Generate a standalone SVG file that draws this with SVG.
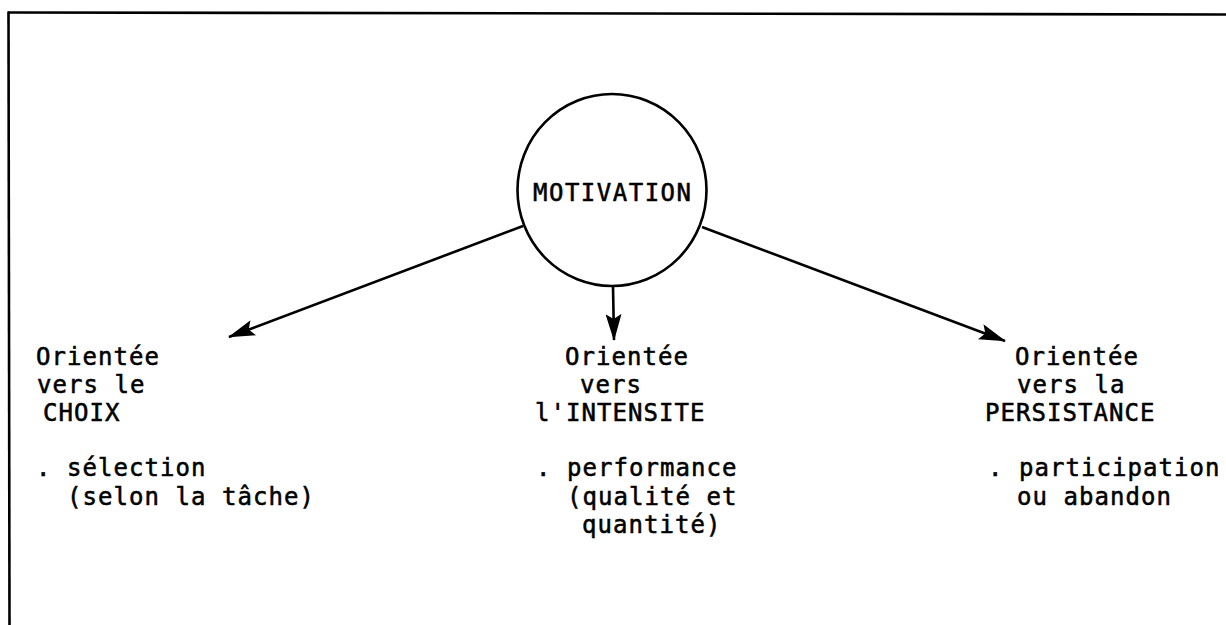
<svg xmlns="http://www.w3.org/2000/svg" width="1226" height="625" viewBox="0 0 1226 625">
<style>
.t{font-family:"DejaVu Sans Mono","Liberation Mono",monospace;font-size:24px;letter-spacing:1.05px;fill:#000;stroke:#000;stroke-width:0.55px}
.ln{stroke:#000;stroke-width:2.6;fill:none}
</style>
<defs>
<marker id="ah" markerWidth="28" markerHeight="16" refX="26" refY="8" orient="auto" markerUnits="userSpaceOnUse">
<path d="M0,0 L27,8 L0,16 L5,8 Z" fill="#000"/>
</marker>
</defs>
<rect x="0" y="0" width="1226" height="625" fill="#fff"/>
<g id="frame">
<line class="ln" x1="8" y1="12.5" x2="1226" y2="14.5"/>
<line class="ln" x1="8.5" y1="11.5" x2="9.5" y2="625"/>
</g>
<g id="connectors">
<line class="ln" x1="523" y1="226" x2="229" y2="337" marker-end="url(#ah)"/>
<line class="ln" x1="613" y1="286" x2="614" y2="340" marker-end="url(#ah)"/>
<line class="ln" x1="702" y1="227" x2="1005" y2="341" marker-end="url(#ah)"/>
</g>
<g id="motivation">
<ellipse class="ln" cx="612" cy="190" rx="94.5" ry="96"/>
<text class="t" x="533" y="201" style="letter-spacing:1.5px">MOTIVATION</text>
</g>
<g id="choix">
<text class="t" x="36" y="365">Orientée</text>
<text class="t" x="37" y="393">vers le</text>
<text class="t" x="43" y="421">CHOIX</text>
<text class="t" x="36" y="476">. sélection</text>
<text class="t" x="67" y="505">(selon la tâche)</text>
</g>
<g id="intensite">
<text class="t" x="565" y="365">Orientée</text>
<text class="t" x="580" y="393">vers</text>
<text class="t" x="535" y="421">l'INTENSITE</text>
<text class="t" x="536" y="476">. performance</text>
<text class="t" x="567" y="505">(qualité et</text>
<text class="t" x="582" y="533">quantité)</text>
</g>
<g id="persistance">
<text class="t" x="1015" y="365">Orientée</text>
<text class="t" x="1017" y="393">vers la</text>
<text class="t" x="985" y="421">PERSISTANCE</text>
<text class="t" x="988" y="476">. participation</text>
<text class="t" x="1017" y="505">ou abandon</text>
</g>
</svg>
